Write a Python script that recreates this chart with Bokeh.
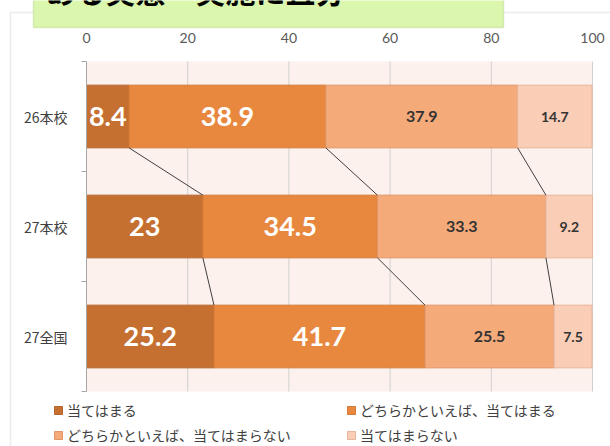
from bokeh.plotting import figure
from bokeh.models import (Range1d, FixedTicker, Legend, LegendItem, BoxAnnotation,
                          Label, ColumnDataSource, LinearAxis)
from bokeh.core.properties import value
from bokeh.embed import file_html
from bokeh.resources import INLINE

categories = ["26本校", "27本校", "27全国"]
series_names = ["当てはまる", "どちらかといえば、当てはまる",
                "どちらかといえば、当てはまらない", "当てはまらない"]
s1 = [8.4, 23, 25.2]
s2 = [38.9, 34.5, 41.7]
s3 = [37.9, 33.3, 25.5]
s4 = [14.7, 9.2, 7.5]
x_ticks = [0, 20, 40, 60, 80, 100]
title_text = "ある実態　実施に且分"

colors = ["#c56f30", "#e8883f", "#f5aa79", "#f9cdb6"]
edge_colors = ["#b4662d", "#d47a38", "#e09468", "#e8b59a"]
label_colors = ["white", "white", "#333333", "#333333"]
label_sizes = ["27px", "27px", "16px", "14px"]

JP = "Noto Sans CJK JP"
NUM = "Lato"

# layout (canvas pixels)
W, H = 610, 446
PL, PR, PT, PB = 86, 592, 61, 391   # plot-area edges
x_min, x_max = x_ticks[0], x_ticks[-1]
n = len(categories)
kx = (PR - PL) / (x_max - x_min)
ky = (PB - PT) / n

p = figure(width=W, height=H, output_backend="svg", toolbar_location=None,
           x_range=Range1d(x_min - PL / kx, x_max + (W - PR) / kx),
           y_range=Range1d(n + (H - PB) / ky, -PT / ky),
           min_border=0, x_axis_type=None, y_axis_type=None)
p.background_fill_color = "white"
p.border_fill_color = "white"
p.outline_line_color = None
p.xgrid.visible = False
p.ygrid.visible = False

# outer chart border (screen units, y up from bottom)
p.add_layout(BoxAnnotation(left=10, right=W + 50, top=H - 12, bottom=-50,
                           left_units="screen", right_units="screen",
                           top_units="screen", bottom_units="screen",
                           fill_color=None, line_color="#c0c0c0", line_width=1.5,
                           level="underlay"))

# plot-area background
p.quad(left=[x_min], right=[x_max], top=[0], bottom=[n],
       fill_color="#fcf1ec", line_color=None)
# vertical gridlines
p.segment(x0=x_ticks, y0=[0] * len(x_ticks), x1=x_ticks, y1=[n] * len(x_ticks),
          line_color="#d0d0d0", line_width=1)

ys = [i + 0.5 for i in range(n)]
bar_h = 0.57

series = [s1, s2, s3, s4]
cums = []
left = [0.0] * n
renderers = []
for k, s in enumerate(series):
    right = [l + v for l, v in zip(left, s)]
    r = p.hbar(y=ys, left=left, right=right, height=bar_h,
               fill_color=colors[k], line_color=edge_colors[k], line_width=1)
    renderers.append(r)
    src = ColumnDataSource(dict(x=[(a + b) / 2 for a, b in zip(left, right)], y=ys,
                                t=[f"{v:g}" for v in s]))
    p.text(x="x", y="y", text="t", source=src, text_align="center",
           text_baseline="middle", text_color=label_colors[k],
           text_font=value(NUM), text_font_style="bold",
           text_font_size=label_sizes[k])
    cums.append(right)
    left = right

# series lines between bars
for c in cums[:-1]:
    p.segment(x0=c[:-1], y0=[y + bar_h / 2 for y in ys[:-1]],
              x1=c[1:], y1=[y - bar_h / 2 for y in ys[1:]],
              line_color="#404040", line_width=1)

# axes drawn at fixed locations inside the canvas
xa = LinearAxis(fixed_location=0, ticker=FixedTicker(ticks=x_ticks),
                axis_line_color=None, major_tick_line_color=None,
                minor_tick_line_color=None,
                major_label_text_font=NUM, major_label_text_font_size="14px",
                major_label_text_color="#595959", major_label_standoff=13)
p.add_layout(xa, "above")

ya = LinearAxis(fixed_location=x_min,
                ticker=FixedTicker(ticks=ys, minor_ticks=list(range(n + 1))),
                major_label_overrides={y: c for y, c in zip(ys, categories)},
                bounds=(0, n),
                major_tick_out=0, major_tick_in=0, minor_tick_out=5, minor_tick_in=0,
                minor_tick_line_color="#a6a6a6", major_tick_line_color=None,
                axis_line_color="#a6a6a6",
                major_label_text_font=JP, major_label_text_font_size="14px",
                major_label_text_color="#404040", major_label_standoff=14)
p.add_layout(ya, "left")

# title box (cut by the top edge)
p.add_layout(BoxAnnotation(left=33, right=503, top=H + 20, bottom=H - 27,
                           left_units="screen", right_units="screen",
                           top_units="screen", bottom_units="screen",
                           fill_color="#dbf7ae", fill_alpha=1,
                           line_color="#9cc45c", line_width=1.5))
p.add_layout(Label(x=45, y=H - 11, x_units="screen", y_units="screen",
                   text=title_text, text_font=JP, text_font_style="bold",
                   text_font_size="30px", text_color="black",
                   text_baseline="bottom", text_align="left"))

# legends
def make_legend(idx, x):
    items = [LegendItem(label=series_names[i], renderers=[renderers[i]]) for i in idx]
    return Legend(items=items, location=(x, 1), orientation="vertical",
                  label_text_font=JP, label_text_font_size="14px",
                  label_text_color="#404040", glyph_width=10, glyph_height=10,
                  label_standoff=4, spacing=5, padding=0, margin=0,
                  background_fill_alpha=0, border_line_color=None)

p.add_layout(make_legend([0, 2], 53))
p.add_layout(make_legend([1, 3], 346))

open("out.html", "w").write(file_html(p, INLINE))
